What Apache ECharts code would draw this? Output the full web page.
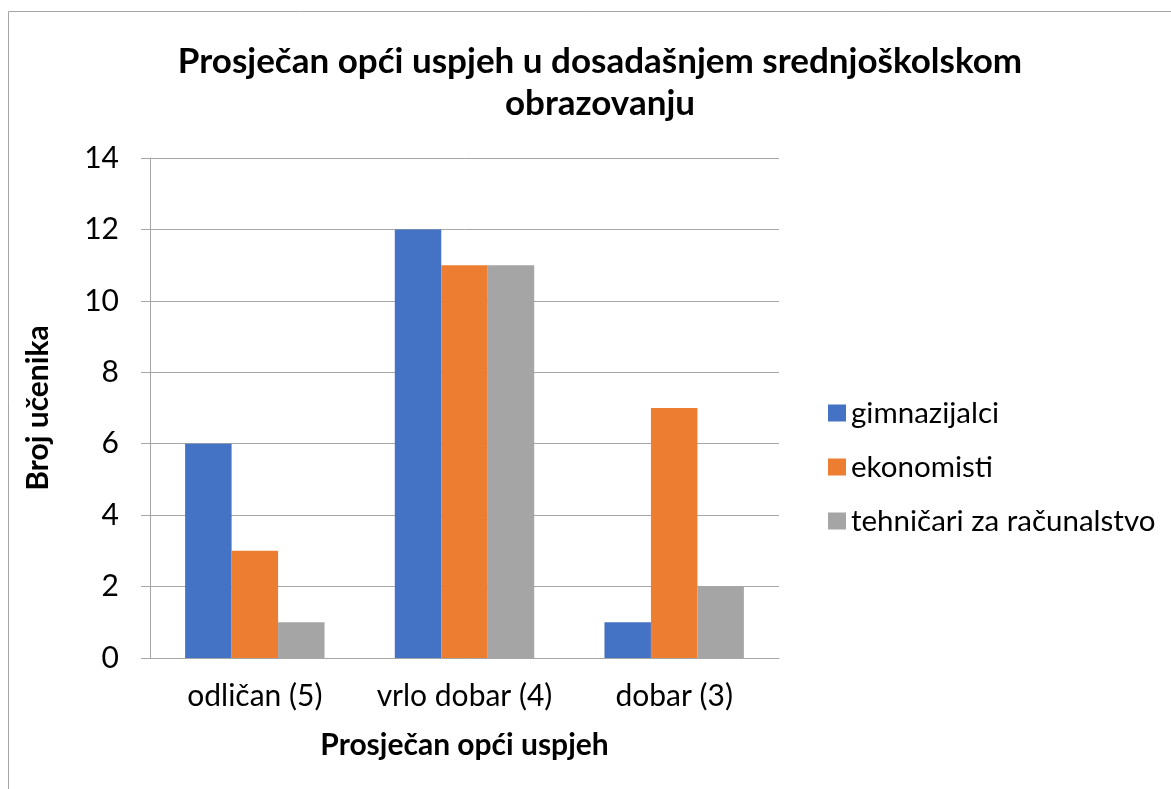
<!DOCTYPE html>
<html><head><meta charset="utf-8">
<script src="https://cdn.jsdelivr.net/npm/echarts@6/dist/echarts.min.js"></script>
<style>html,body{margin:0;padding:0;background:#fff}#c{width:1171px;height:789px}</style>
</head><body><div id="c"></div>
<script>
const categories = ['odličan (5)', 'vrlo dobar (4)', 'dobar (3)'];
const gimnazijalci = [6, 12, 1];
const ekonomisti = [3, 11, 7];
const tehnicari = [1, 11, 2];
const seriesNames = ['gimnazijalci', 'ekonomisti', 'tehničari za računalstvo'];
const FONT = 'Lato, "Open Sans", sans-serif';
const chart = echarts.init(document.getElementById('c'), null, {renderer: 'canvas'});
chart.setOption({
  animation: false,
  textStyle: {fontFamily: FONT},
  graphic: [{type: 'rect', shape: {x: 8.5, y: 11.5, width: 1170, height: 800}, style: {fill: 'none', stroke: '#A6A6A6', lineWidth: 1}}],
  title: {
    text: 'Prosječan opći uspjeh u dosadašnjem srednjoškolskom\nobrazovanju',
    left: 595, top: 36, textAlign: 'center',
    textStyle: {fontFamily: FONT, fontSize: 35, fontWeight: 'bold', color: '#000', lineHeight: 42, align: 'center'}
  },
  legend: {
    orient: 'vertical', left: 823, top: 393,
    itemWidth: 18, itemHeight: 17, itemGap: 24, icon: 'rect',
    textStyle: {fontFamily: FONT, fontSize: 29.5, color: '#000', lineHeight: 30},
    data: seriesNames
  },
  grid: {left: 150, right: 392, top: 158, bottom: 131, containLabel: false},
  xAxis: {
    type: 'category', data: categories,
    name: 'Prosječan opći uspjeh', nameLocation: 'middle', nameGap: 72,
    nameTextStyle: {fontFamily: FONT, fontSize: 30, fontWeight: 'bold', color: '#000'},
    axisLine: {lineStyle: {color: '#A6A6A6', width: 1}},
    axisTick: {show: false},
    axisLabel: {fontFamily: FONT, fontSize: 30, color: '#000', margin: 23, interval: 0, hideOverlap: false}
  },
  yAxis: {
    type: 'value', min: 0, max: 14, interval: 2,
    name: 'Broj učenika', nameLocation: 'middle', nameGap: 97, nameRotate: 90,
    nameTextStyle: {fontFamily: FONT, fontSize: 30, fontWeight: 'bold', color: '#000'},
    axisLine: {show: true, lineStyle: {color: '#A6A6A6', width: 1}},
    axisTick: {show: true, length: 9, lineStyle: {color: '#A6A6A6'}},
    splitLine: {lineStyle: {color: '#A6A6A6', width: 1}},
    axisLabel: {fontFamily: FONT, fontSize: 30, color: '#000', margin: 31}
  },
  series: [
    {name: seriesNames[0], type: 'bar', data: gimnazijalci, itemStyle: {color: '#4472C4'}, barGap: '0%', barCategoryGap: '33.5%'},
    {name: seriesNames[1], type: 'bar', data: ekonomisti, itemStyle: {color: '#ED7D31'}, barGap: '0%', barCategoryGap: '33.5%'},
    {name: seriesNames[2], type: 'bar', data: tehnicari, itemStyle: {color: '#A5A5A5'}, barGap: '0%', barCategoryGap: '33.5%'}
  ]
});
</script></body></html>
